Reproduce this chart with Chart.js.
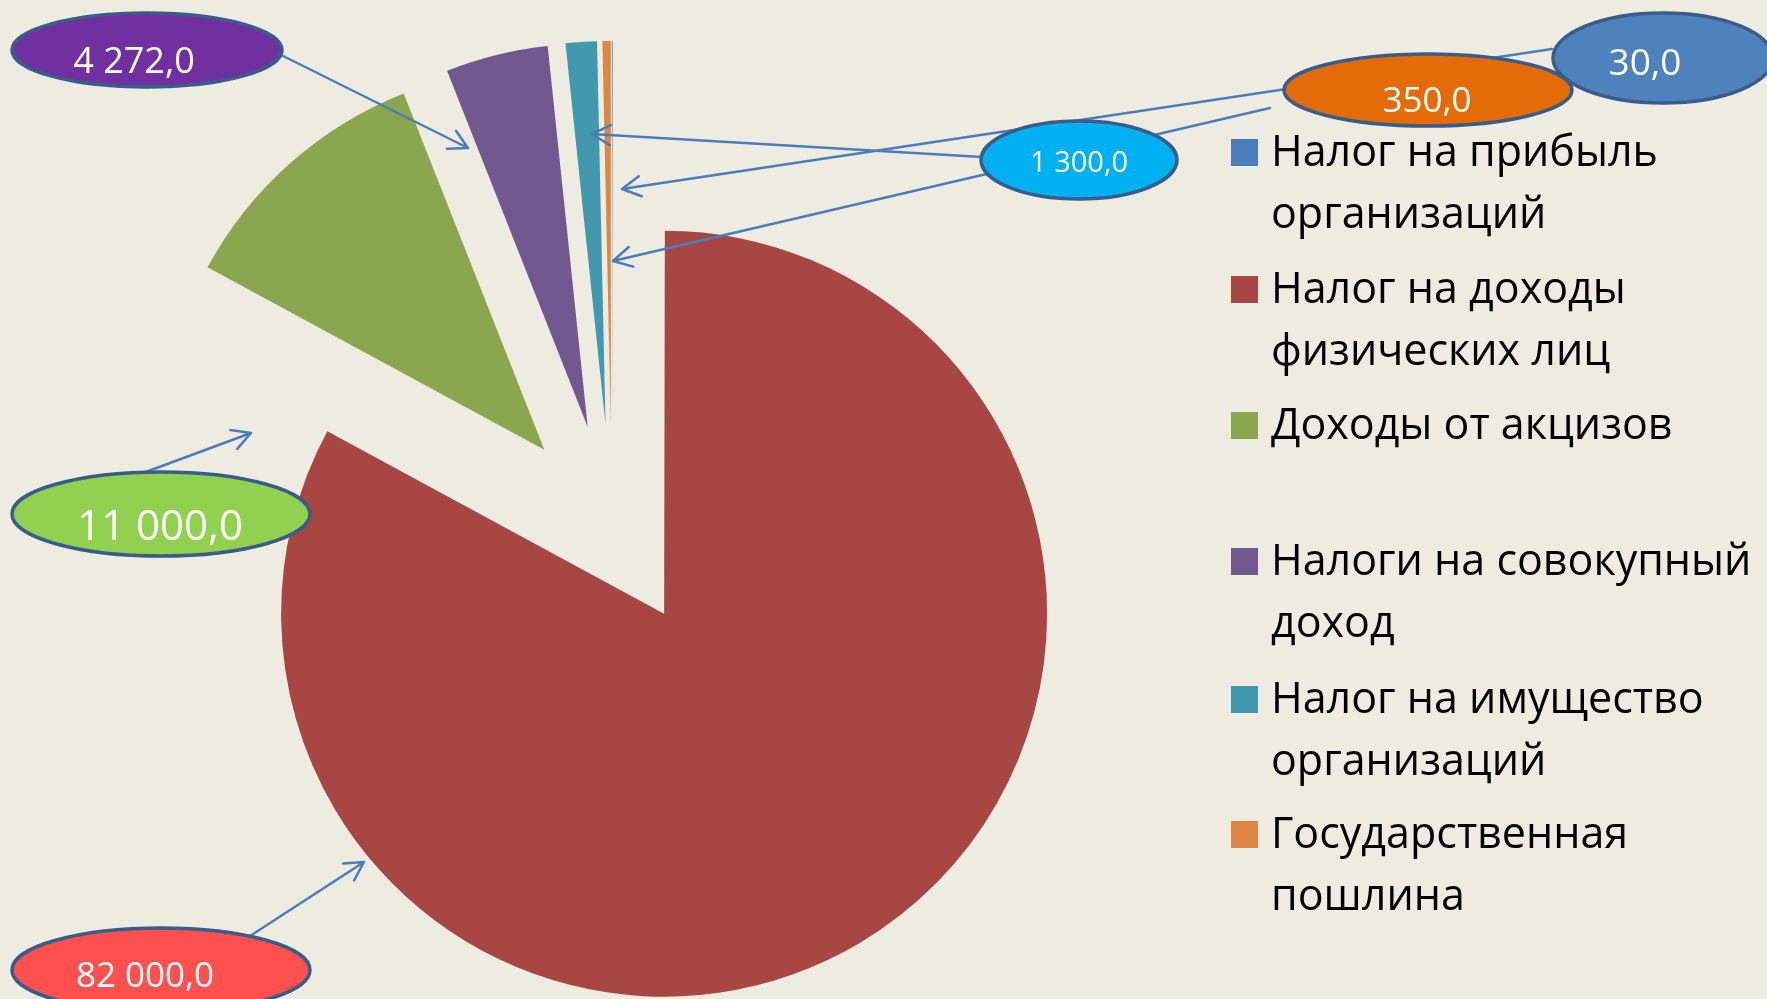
<!DOCTYPE html>
<html lang="ru">
<head>
<meta charset="utf-8">
<title>Налоговые доходы</title>
<script src="https://cdn.jsdelivr.net/npm/chart.js@4.4.1/dist/chart.umd.min.js"></script>
<style>
  html, body { margin: 0; padding: 0; background: #EEECE1; overflow: hidden; }
  #wrap { position: relative; width: 1767px; height: 999px; }
  #chart0 { position: absolute; left: 0; top: 0; }
  #legend { position: absolute; left: 1231px; top: 0; width: 536px;
            font-family: "Open Sans", sans-serif; font-size: 43px; line-height: 62px; color: #000; }
  .item { position: absolute; left: 0; width: 536px; }
  .box { position: absolute; left: 0; top: 20px; width: 27px; height: 27px; }
  .txt { position: absolute; left: 40px; width: 496px; }
</style>
</head>
<body>
<div id="wrap">
  <canvas id="chart0" width="1767" height="999"></canvas>
  <div id="legend"></div>
</div>
<script>
const categories = [
  "Налог на прибыль организаций",
  "Налог на доходы физических лиц",
  "Доходы от акцизов",
  "Налоги на совокупный доход",
  "Налог на имущество организаций",
  "Государственная пошлина"
];
const values = [30, 82000, 11000, 4272, 1300, 350];
const sliceColors = ["#4A7EBB", "#A84644", "#8AA64E", "#71588F", "#4198AF", "#DE8642"];
const bubbleColors = ["#4F81BD", "#FF5050", "#92D050", "#7030A0", "#00B0F0", "#E36C09"];

// layout of the pie and the hand-placed callouts (same order as values)
const EXPLODE = 102;
const legendTops = [119, 256, 392, 528, 666, 801];
const callouts = [
  { cx: 1663, cy: 58,  rx: 110, ry: 45, tx: 1645, ty: 75,  size: 37, from: [1552, 49],  to: [622, 189] },
  { cx: 161,  cy: 970, rx: 149, ry: 42, tx: 145,  ty: 987, size: 35, from: [250, 936],  to: [364, 862] },
  { cx: 161,  cy: 514, rx: 149, ry: 42, tx: 160,  ty: 540, size: 42, from: [143, 473],  to: [251, 433] },
  { cx: 147,  cy: 50,  rx: 135, ry: 37, tx: 134,  ty: 73,  size: 36, from: [257, 43],   to: [468, 148] },
  { cx: 1079, cy: 160, rx: 98,  ry: 39, tx: 1079, ty: 172, size: 29, from: [982, 157],  to: [592, 134] },
  { cx: 1428, cy: 90,  rx: 144, ry: 36, tx: 1427, ty: 112, size: 35, from: [1270, 108], to: [613, 261] }
];

function fmt(v) {
  const parts = v.toFixed(1).split(".");
  return parts[0].replace(/\B(?=(\d{3})+(?!\d))/g, " ") + "," + parts[1];
}

// pull every slice out along its middle angle
const explode = {
  id: "explode",
  afterDatasetUpdate(chart, args) {
    const meta = chart.getDatasetMeta(args.index);
    meta.data.forEach((arc) => {
      const mid = (arc.startAngle + arc.endAngle) / 2;
      arc.x += Math.cos(mid) * EXPLODE;
      arc.y += Math.sin(mid) * EXPLODE;
    });
  }
};

function arrow(ctx, from, to) {
  ctx.beginPath();
  ctx.moveTo(from[0], from[1]);
  ctx.lineTo(to[0], to[1]);
  const a = Math.atan2(to[1] - from[1], to[0] - from[0]);
  const len = 21, spread = 0.5;
  ctx.moveTo(to[0] - len * Math.cos(a - spread), to[1] - len * Math.sin(a - spread));
  ctx.lineTo(to[0], to[1]);
  ctx.lineTo(to[0] - len * Math.cos(a + spread), to[1] - len * Math.sin(a + spread));
  ctx.stroke();
}

const calloutPlugin = {
  id: "callouts",
  afterDraw(chart) {
    const ctx = chart.ctx;
    ctx.save();
    ctx.strokeStyle = "#4A7EBB";
    ctx.lineWidth = 2.5;
    ctx.lineCap = "round";
    ctx.lineJoin = "round";
    callouts.forEach((c) => arrow(ctx, c.from, c.to));

    values.forEach((v, i) => {
      const c = callouts[i];
      ctx.beginPath();
      ctx.ellipse(c.cx, c.cy, c.rx, c.ry, 0, 0, Math.PI * 2);
      ctx.fillStyle = bubbleColors[i];
      ctx.fill();
      ctx.lineWidth = 3.5;
      ctx.strokeStyle = "#385D8A";
      ctx.stroke();
      ctx.fillStyle = "#FFFFFF";
      ctx.font = c.size + 'px "Open Sans"';
      ctx.textAlign = "center";
      ctx.textBaseline = "alphabetic";
      ctx.fillText(fmt(v), c.tx, c.ty);
    });
    ctx.restore();
  }
};

function buildLegend() {
  const box = document.getElementById("legend");
  categories.forEach((name, i) => {
    const item = document.createElement("div");
    item.className = "item";
    item.style.top = legendTops[i] + "px";
    const sw = document.createElement("div");
    sw.className = "box";
    sw.style.background = sliceColors[i];
    const t = document.createElement("div");
    t.className = "txt";
    t.textContent = name;
    item.appendChild(sw);
    item.appendChild(t);
    box.appendChild(item);
  });
}

function charit() {
  const ctx = document.getElementById("chart0").getContext("2d");
  new Chart(ctx, {
    type: "pie",
    data: {
      labels: categories,
      datasets: [{
        data: values,
        backgroundColor: sliceColors,
        borderWidth: 0,
        radius: 383,
        clip: false
      }]
    },
    options: {
      responsive: false,
      animation: false,
      layout: { padding: { left: 0, right: 543, top: 53, bottom: 0 } },
      plugins: { legend: { display: false }, tooltip: { enabled: false } }
    },
    plugins: [explode, calloutPlugin]
  });
}

buildLegend();
charit();
</script>
</body>
</html>
